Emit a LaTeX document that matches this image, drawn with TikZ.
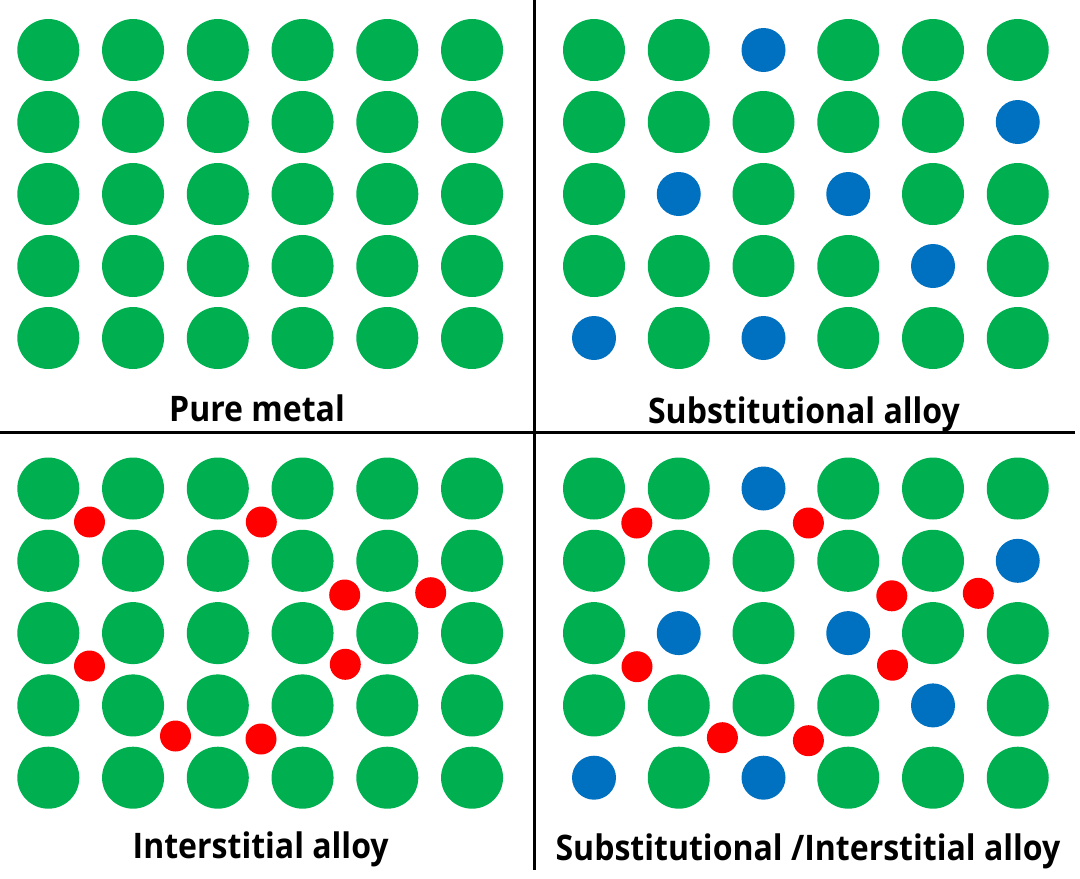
\documentclass[tikz,border=0pt]{standalone}
\usepackage{fontspec}
\newfontfamily\labfont{Open Sans}[FakeStretch=0.91]
\definecolor{metal}{HTML}{00B050}
\definecolor{subst}{HTML}{0070C0}
\definecolor{inter}{HTML}{FF0000}
\tikzset{
  host/.style={fill=metal},
  sub/.style={fill=subst},
  int/.style={fill=inter},
  divider/.style={draw=black,line width=3.2pt},
  caption/.style={anchor=base,inner sep=0pt,font=\labfont\bfseries\fontsize{35.2}{40}\selectfont}
}
\begin{document}
\begin{tikzpicture}[x=1pt,y=-1pt]
\useasboundingbox (0,0) rectangle (1080,879);
% pure metal
\foreach \i in {0,...,5}{\foreach \j in {0,...,4}{
  \fill[host] ({48.3+84.75*\i},{50+72*\j}) circle[radius=31];}}
% substitutional alloy (top right)
\foreach \i/\j/\t in {0/0/h,1/0/h,2/0/s,3/0/h,4/0/h,5/0/h,
                      0/1/h,1/1/h,2/1/h,3/1/h,4/1/h,5/1/s,
                      0/2/h,1/2/s,2/2/h,3/2/s,4/2/h,5/2/h,
                      0/3/h,1/3/h,2/3/h,3/3/h,4/3/s,5/3/h,
                      0/4/s,1/4/h,2/4/s,3/4/h,4/4/h,5/4/h}{
  \if\t h\fill[host] ({594+84.75*\i},{50+72*\j}) circle[radius=31];
  \else\fill[sub] ({594+84.75*\i},{50+72*\j}) circle[radius=22];\fi}
% interstitial alloy (bottom left)
\foreach \i in {0,...,5}{\foreach \j in {0,...,4}{
  \fill[host] ({48.3+84.75*\i},{488.5+72.3*\j}) circle[radius=31];}}
\foreach \x/\y in {89.5/522,261.3/522,344.7/595,430.7/592.7,89.5/666,345.3/664.3,175.5/736,261/739}{
  \fill[int] (\x,\y) circle[radius=15.5];}
% substitutional / interstitial alloy (bottom right)
\foreach \i/\j/\t in {0/0/h,1/0/h,2/0/s,3/0/h,4/0/h,5/0/h,
                      0/1/h,1/1/h,2/1/h,3/1/h,4/1/h,5/1/s,
                      0/2/h,1/2/s,2/2/h,3/2/s,4/2/h,5/2/h,
                      0/3/h,1/3/h,2/3/h,3/3/h,4/3/s,5/3/h,
                      0/4/s,1/4/h,2/4/s,3/4/h,4/4/h,5/4/h}{
  \if\t h\fill[host] ({594+84.75*\i},{488.5+72.3*\j}) circle[radius=31];
  \else\fill[sub] ({594+84.75*\i},{488.5+72.3*\j}) circle[radius=22];\fi}
\foreach \x/\y in {636.8/523,808.4/523,891.8/595.8,978.3/593.3,637/666.7,892.5/665.2,722.4/737.7,808.4/740.7}{
  \fill[int] (\x,\y) circle[radius=15.5];}
% dividers
\coordinate (vtop) at (534.5,0);
\coordinate (vbot) at (534.5,870);
\coordinate (hl) at (0,432.5);
\coordinate (hr) at (1075,432.5);
\draw[divider] (vtop) -- (vbot);
\draw[divider] (hl) -- (hr);
% captions
\node[caption] (pm) at (257,421) {Pure metal};
\node[caption] (sa) at (804,423) {Substitutional alloy};
\node[caption] (ia) at (260.7,858) {Interstitial alloy};
\node[caption] (sia) at (808,860) {Substitutional /Interstitial alloy};
\end{tikzpicture}
\end{document}
